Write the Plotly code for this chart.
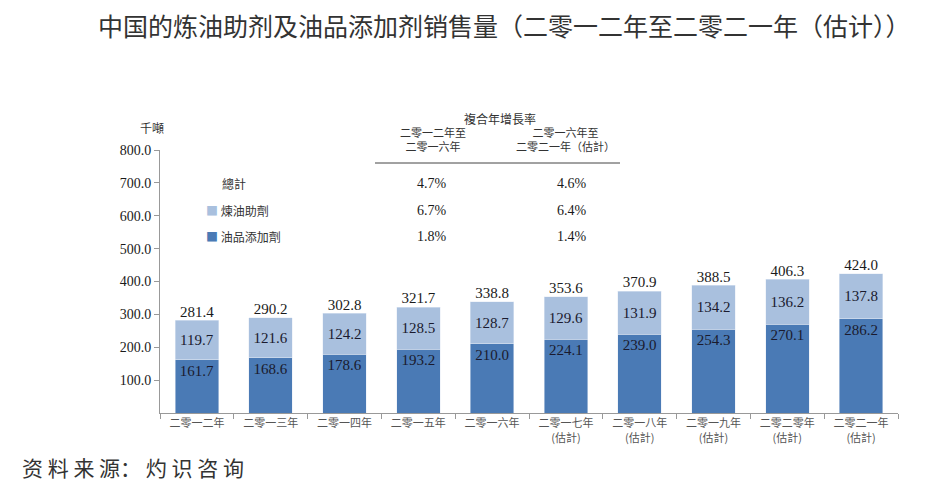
import plotly.graph_objects as go

categories = ["二零一二年", "二零一三年", "二零一四年", "二零一五年", "二零一六年",
              "二零一七年<br>(估計)", "二零一八年<br>(估計)", "二零一九年<br>(估計)",
              "二零二零年<br>(估計)", "二零二一年<br>(估計)"]
additives = [161.7, 168.6, 178.6, 193.2, 210.0, 224.1, 239.0, 254.3, 270.1, 286.2]
refining = [119.7, 121.6, 124.2, 128.5, 128.7, 129.6, 131.9, 134.2, 136.2, 137.8]
totals = [281.4, 290.2, 302.8, 321.7, 338.8, 353.6, 370.9, 388.5, 406.3, 424.0]
y_ticks = [100, 200, 300, 400, 500, 600, 700, 800]
y_ticktext = ["%.1f" % v for v in y_ticks]

cagr_rows = ["總計", "煉油助劑", "油品添加劑"]
cagr_1216 = ["4.7%", "6.7%", "1.8%"]
cagr_1621 = ["4.6%", "6.4%", "1.4%"]

DARK = "#4a7ab5"
LIGHT = "#a9c0de"
SERIF = "Liberation Serif, Times New Roman, serif"
CJK = "Noto Sans CJK SC, Noto Sans CJK TC, sans-serif"

OFF = 8  # page body margin
W, H = 927 - OFF, 496 - OFF

fig = go.Figure()
fig.add_trace(go.Bar(
    x=categories, y=additives, name="油品添加劑", marker_color=DARK,
    text=["%.1f" % v for v in additives], textposition="inside",
    insidetextanchor="end", textangle=0, constraintext="none",
    textfont=dict(family=SERIF, size=15, color="#1a1a2e"),
))
fig.add_trace(go.Bar(
    x=categories, y=refining, name="煉油助劑", marker_color=LIGHT,
    text=["%.1f" % v for v in refining], textposition="inside",
    insidetextanchor="middle", textangle=0, constraintext="none",
    textfont=dict(family=SERIF, size=15, color="#1a1a2e"),
))
fig.add_trace(go.Scatter(
    x=categories, y=totals, mode="text",
    text=["%.1f" % v for v in totals], textposition="top center",
    textfont=dict(family=SERIF, size=15, color="#1a1a1a"),
    showlegend=False, cliponaxis=False,
))

# plot area in screen pixels: x 160..898, y 150..413
L, R, T, B = 160, 898, 150, 413
def px(x):
    return (x - L) / (R - L)
def py(y):
    return (B - y) / (B - T)

ann = []
def add(text, x, y, size=12, xanchor="center", font=CJK, color="#333333"):
    ann.append(dict(text=text, x=px(x), y=py(y), xref="paper", yref="paper",
                    showarrow=False, xanchor=xanchor, yanchor="middle",
                    font=dict(family=font, size=size, color=color)))

add("中国的炼油助剂及油品添加剂销售量（二零一二年至二零二一年（估计））", 504, 25, size=25)
add("千噸", 152, 128, size=12)
add("複合年增長率", 500, 118, size=12)
add("二零一二年至<br>二零一六年", 433, 139, size=11)
add("二零一六年至<br>二零二一年（估計）", 565, 139, size=11)
row_y = [183, 210, 236]
for i, lab in enumerate(cagr_rows):
    if i == 0:
        add(lab, 220, row_y[i], size=12, xanchor="left")
    else:
        ann.append(dict(text="<span style='color:%s'>■</span> %s" % (LIGHT if i == 1 else DARK, lab),
                        x=px(204), y=py(row_y[i]), xref="paper", yref="paper",
                        showarrow=False, xanchor="left", yanchor="middle",
                        font=dict(family=CJK, size=12, color="#333333")))
    add(cagr_1216[i], 432, row_y[i], size=14, font=SERIF, color="#1a1a1a")
    add(cagr_1621[i], 572, row_y[i], size=14, font=SERIF, color="#1a1a1a")

add("资&nbsp;料&nbsp;来&nbsp;源：&nbsp;灼&nbsp;识&nbsp;咨&nbsp;询", 20, 467, size=21, xanchor="left")

fig.add_shape(type="line", xref="paper", yref="paper",
              x0=px(375), x1=px(620), y0=py(163), y1=py(163),
              line=dict(color="#444444", width=1))

fig.update_layout(
    width=W, height=H,
    margin=dict(l=L - OFF, r=W - (R - OFF), t=T - OFF, b=H - (B - OFF)),
    barmode="stack", bargap=0.41,
    paper_bgcolor="white", plot_bgcolor="white",
    showlegend=False,
    annotations=ann,
)

fig.update_xaxes(
    showline=True, linecolor="#999999", linewidth=1,
    ticks="outside", tickson="boundaries", ticklen=5, tickcolor="#999999",
    tickfont=dict(family=CJK, size=11, color="#555555"),
    showgrid=False,
)
fig.update_yaxes(
    range=[0, 800], tickvals=y_ticks, ticktext=y_ticktext,
    showline=True, linecolor="#999999", linewidth=1,
    ticks="outside", ticklen=5, tickcolor="#999999",
    tickfont=dict(family=SERIF, size=14, color="#1a1a1a"),
    showgrid=False, zeroline=False,
)
fig.write_html("out.html")
